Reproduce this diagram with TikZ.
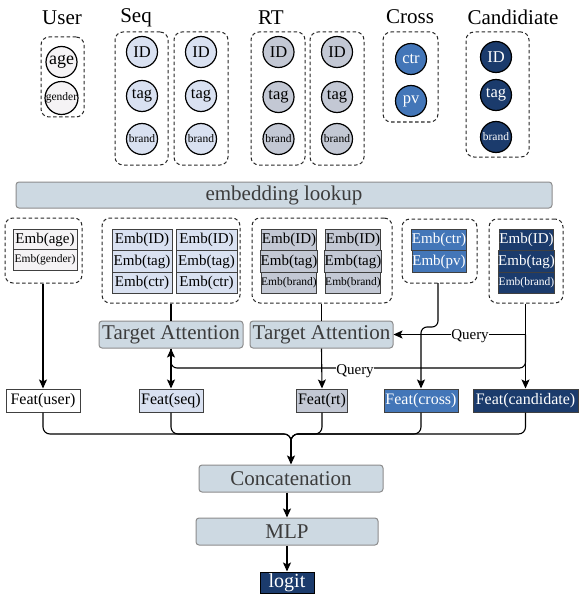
\documentclass[tikz,border=0pt]{standalone}
\usepackage{fontspec}
\setmainfont{Liberation Serif}
\usetikzlibrary{arrows.meta,calc}
\definecolor{cuser}{HTML}{F5F3F5}
\definecolor{cseq}{HTML}{D9E1F1}
\definecolor{crt}{HTML}{C3C8D4}
\definecolor{ccross}{HTML}{4376B8}
\definecolor{ccand}{HTML}{1B3B6C}
\definecolor{cbar}{HTML}{CDD9E2}
\definecolor{cbarline}{HTML}{8C8C8C}
\definecolor{cbartext}{HTML}{3C3C3C}
\tikzset{
  hdr/.style={font=\fontsize{21}{21}\selectfont, inner sep=0pt},
  circ/.style={circle, draw=black, line width=1.2pt, minimum size=31pt, inner sep=0pt},
  grp/.style={draw=black!85, dash pattern=on 3.5pt off 2.5pt, rounded corners=8pt, line width=1pt},
  bar/.style={draw=cbarline, fill=cbar, rounded corners=3pt, text=cbartext, line width=1pt, inner sep=0pt},
  cell/.style={draw=black!75, line width=1pt, inner sep=0pt, minimum height=21.5pt},
  feat/.style={draw=black!75, line width=1pt, inner sep=0pt, minimum height=23pt, font=\fontsize{16}{16}\selectfont},
  big/.style={font=\fontsize{16.5}{16.5}\selectfont},
  mid/.style={font=\fontsize{15}{15}\selectfont},
  sml/.style={font=\fontsize{11.5}{11.5}\selectfont},
  ln/.style={line width=1.1pt, black},
  conn/.style={ln, -{Stealth[length=9pt,width=8pt,inset=2pt]}},
  ql/.style={fill=white, inner sep=0.5pt, font=\fontsize{15}{15}\selectfont}
}
\begin{document}
\begin{tikzpicture}[x=1pt,y=-1pt]
\useasboundingbox (0,0) rectangle (588,599);
% headers
\node[hdr] (hu) at (62,18) {User};
\node[hdr] (hs) at (136,18) {Seq};
\node[hdr] (hr) at (271,18) {RT};
\node[hdr] (hc) at (410,17) {Cross};
\node[hdr] (hd) at (513,17) {Candidiate};
% input groups
\node[grp, minimum width=43pt, minimum height=80pt] (gu) at (62.5,77) {};
\node[circ, fill=cuser, font=\fontsize{18}{18}\selectfont] (cage) at (61.5,62) {age};
\node[circ, fill=cuser, sml] (cgen) at (61.5,98) {gender};

\node[grp, minimum width=53pt, minimum height=133pt] (gs1) at (141.5,98.5) {};
\node[grp, minimum width=54pt, minimum height=133pt] (gs2) at (201,98.5) {};
\node[circ, fill=cseq, big] (s1a) at (142,52) {ID};
\node[circ, fill=cseq, big] (s1b) at (142,96) {tag};
\node[circ, fill=cseq, sml] (s1c) at (142,139) {brand};
\node[circ, fill=cseq, big] (s2a) at (201,52) {ID};
\node[circ, fill=cseq, big] (s2b) at (201,96) {tag};
\node[circ, fill=cseq, sml] (s2c) at (201,139) {brand};

\node[grp, minimum width=54pt, minimum height=133pt] (gr1) at (278,98.5) {};
\node[grp, minimum width=54pt, minimum height=133pt] (gr2) at (337,98.5) {};
\node[circ, fill=crt, big] (r1a) at (278.5,52) {ID};
\node[circ, fill=crt, big] (r1b) at (278.5,97) {tag};
\node[circ, fill=crt, sml] (r1c) at (278.5,139) {brand};
\node[circ, fill=crt, big] (r2a) at (337,52) {ID};
\node[circ, fill=crt, big] (r2b) at (337,97) {tag};
\node[circ, fill=crt, sml] (r2c) at (337,139) {brand};

\node[grp, minimum width=55pt, minimum height=90pt] (gc) at (410.5,77) {};
\node[circ, fill=ccross, text=white, big] (cctr) at (411,59) {ctr};
\node[circ, fill=ccross, text=white, big] (cpv) at (411,101) {pv};

\node[grp, minimum width=63pt, minimum height=125pt] (gd) at (497.5,94.5) {};
\node[circ, fill=ccand, text=white, big] (da) at (496,57) {ID};
\node[circ, fill=ccand, text=white, big] (db) at (496,95) {tag};
\node[circ, fill=ccand, text=white, sml] (dc) at (496,137) {brand};

% embedding lookup
\node[bar, minimum width=536pt, minimum height=26pt, font=\fontsize{21}{21}\selectfont] (emb) at (284,195) {embedding lookup};

% embedding groups
\node[grp, minimum width=77pt, minimum height=65pt] (eu) at (43.5,250.5) {};
\node[cell, fill=cuser, minimum width=64pt, minimum height=20.5pt, mid] (eu1) at (45,239.5) {Emb(age)};
\node[cell, fill=cuser, minimum width=64pt, minimum height=20.5pt, sml] (eu2) at (45,260) {Emb(gender)};

\node[grp, minimum width=138pt, minimum height=85pt] (es) at (171,260.5) {};
\node[cell, fill=cseq, minimum width=60pt, mid] (es1a) at (142,240) {Emb(ID)};
\node[cell, fill=cseq, minimum width=60pt, mid] (es1b) at (142,261.5) {Emb(tag)};
\node[cell, fill=cseq, minimum width=60pt, mid] (es1c) at (142,283) {Emb(ctr)};
\node[cell, fill=cseq, minimum width=61pt, mid] (es2a) at (206.5,240) {Emb(ID)};
\node[cell, fill=cseq, minimum width=61pt, mid] (es2b) at (206.5,261.5) {Emb(tag)};
\node[cell, fill=cseq, minimum width=61pt, mid] (es2c) at (206.5,283) {Emb(ctr)};

\node[grp, minimum width=140pt, minimum height=85pt] (er) at (322,260.5) {};
\node[cell, fill=crt, minimum width=54pt, mid] (er1a) at (289,240) {Emb(ID)};
\node[cell, fill=crt, minimum width=54pt, mid] (er1b) at (289,261.5) {Emb(tag)};
\node[cell, fill=crt, minimum width=54pt, sml] (er1c) at (289,283) {Emb(brand)};
\node[cell, fill=crt, minimum width=54pt, mid] (er2a) at (353,240) {Emb(ID)};
\node[cell, fill=crt, minimum width=54pt, mid] (er2b) at (353,261.5) {Emb(tag)};
\node[cell, fill=crt, minimum width=54pt, sml] (er2c) at (353,283) {Emb(brand)};

\node[grp, minimum width=75pt, minimum height=64pt] (ec) at (439.5,251) {};
\node[cell, fill=ccross, text=white, minimum width=54pt, mid] (ec1) at (439,240) {Emb(ctr)};
\node[cell, fill=ccross, text=white, minimum width=54pt, mid] (ec2) at (439,261.5) {Emb(pv)};

\node[grp, minimum width=74pt, minimum height=84pt] (ed) at (526,261) {};
\node[cell, fill=ccand, text=white, minimum width=53pt, mid] (ed1) at (526.5,240) {Emb(ID)};
\node[cell, fill=ccand, text=white, minimum width=53pt, mid] (ed2) at (526.5,261.5) {Emb(tag)};
\node[cell, fill=ccand, text=white, minimum width=53pt, sml] (ed3) at (526.5,283) {Emb(brand)};

% target attention
\node[bar, minimum width=144pt, minimum height=27pt, font=\fontsize{21}{21}\selectfont] (ta1) at (171,334.5) {Target Attention};
\node[bar, minimum width=143pt, minimum height=27pt, font=\fontsize{21}{21}\selectfont] (ta2) at (321.5,334.5) {Target Attention};

% feats
\node[feat, fill=white, minimum width=74pt] (fu) at (43,400.5) {Feat(user)};
\node[feat, fill=cseq, minimum width=64pt] (fs) at (171,400.5) {Feat(seq)};
\node[feat, fill=crt, minimum width=51pt] (fr) at (322,400.5) {Feat(rt)};
\node[feat, fill=ccross, text=white, minimum width=74pt] (fc) at (421,400.5) {Feat(cross)};
\node[feat, fill=ccand, text=white, minimum width=105pt] (fd) at (525.5,400.5) {Feat(candidate)};

% bottom
\node[bar, minimum width=184pt, minimum height=27pt, font=\fontsize{21}{21}\selectfont] (cc) at (291,478.5) {Concatenation};
\node[bar, minimum width=182pt, minimum height=27pt, font=\fontsize{21}{21}\selectfont] (mlp) at (287,531.5) {MLP};
\node[draw=black, line width=1pt, fill=ccand, text=white, minimum width=54pt, minimum height=21pt, inner sep=0pt, font=\fontsize{20}{20}\selectfont] (lg) at (287,582.5) {logit};

% connectors
\draw[conn] (fu.north |- eu.south) -- (fu.north);
\draw[ln] (ta1.north |- es.south) -- (ta1.north);
\draw[ln] (ta2.north |- er.south) -- (ta2.north);
\draw[conn] (ta1.south) -- (fs.north);
\draw[conn] (ta2.south) -- (fr.north);
\draw[conn, rounded corners=6pt] (438,283) -- (438,327) -- (fc.north |- 0,327) -- (fc.north);
\coordinate (qa) at (fd.north |- ta2.east);
\draw[conn] (fd.north |- ed.south) -- (fd.north);
\draw[conn] (qa) -- (ta2.east);
\node[ql] (q1) at (470,336) {Query};
\draw[conn, rounded corners=6pt] (qa) -- (qa |- 0,368) -- (ta1.south |- 0,368) -- (ta1.south);
\node[ql] (q2) at (355,371.5) {Query};

\coordinate (mj) at (291,434);
\coordinate (mk) at (291,444);
\foreach \f in {fu,fs,fr,fc,fd}{
  \draw[ln, rounded corners=7pt] (\f.south) -- (\f.south |- mj) -- (mj) -- (mk);
}
\draw[conn] (mk) -- (cc.north);
\draw[conn] (mlp.north |- cc.south) -- (mlp.north);
\draw[conn] (mlp.south) -- (lg.north);
\end{tikzpicture}
\end{document}
